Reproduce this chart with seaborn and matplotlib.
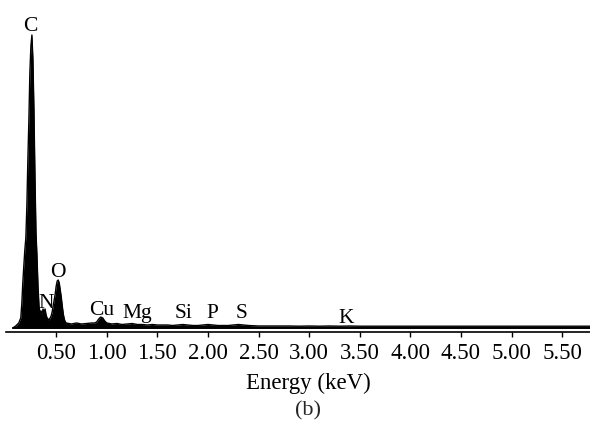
import matplotlib
matplotlib.use("Agg")
import matplotlib.pyplot as plt
import seaborn as sns
import pandas as pd

# EDS spectrum (counts in arbitrary units)
energy_kev = [0.07, 0.10, 0.13, 0.15, 0.16, 0.17, 0.18, 0.19, 0.20, 0.21,
              0.22, 0.23, 0.24, 0.25, 0.26, 0.27, 0.28, 0.29, 0.30, 0.31,
              0.32, 0.33, 0.34, 0.35, 0.36, 0.37, 0.38, 0.39, 0.40, 0.41,
              0.42, 0.43, 0.44, 0.45, 0.46, 0.47, 0.48, 0.49, 0.50, 0.51,
              0.52, 0.53, 0.54, 0.55, 0.56, 0.57, 0.58, 0.59, 0.60, 0.65,
              0.70, 0.75, 0.80, 0.85, 0.88, 0.90, 0.92, 0.94, 0.96, 0.98,
              1.00, 1.05, 1.10, 1.15, 1.20, 1.25, 1.30, 1.35, 1.40, 1.45,
              1.50, 1.55, 1.60, 1.65, 1.70, 1.75, 1.80, 1.85, 1.90, 1.95,
              2.00, 2.05, 2.10, 2.15, 2.20, 2.25, 2.30, 2.35, 2.40, 2.50,
              2.60, 2.70, 2.80, 2.90, 3.00, 3.10, 3.20, 3.30, 3.40, 3.50,
              3.60, 3.70, 3.80, 3.90, 4.00, 4.20, 4.40, 4.60, 4.80, 5.00,
              5.20, 5.40, 5.60, 5.78]
counts = [0, 2, 5, 10, 24, 45, 62, 78, 90, 122,
          168, 208, 256, 282, 293, 268, 218, 152, 96, 72,
          42, 22, 15, 17, 14, 19, 16, 19, 13, 10,
          9, 8, 10, 12, 16, 22, 28, 34, 42, 47,
          48, 45, 38, 31, 22, 14, 9, 6, 5, 4,
          5, 4, 4.5, 5, 5, 6, 9, 11, 10, 7,
          5, 4, 4.5, 3.5, 4, 4.5, 3.5, 3.5, 3, 3.5,
          3, 3, 3, 2.5, 3, 3.5, 3, 2.5, 2.5, 3,
          3.5, 3, 2.5, 2.5, 2.5, 3, 3.5, 3, 2.5, 2,
          2, 2, 2, 1.8, 2, 1.8, 2, 1.8, 2, 1.8,
          1.8, 1.8, 1.8, 1.8, 1.8, 1.8, 1.8, 1.8, 1.8, 1.8,
          1.8, 1.8, 1.8, 1.8]

# element labels: name, energy position, height of text baseline
elements = ["C", "N", "O", "Cu", "Mg", "Si", "P", "S", "K"]
element_x = [0.241, 0.404, 0.513, 0.953, 1.298, 1.763, 2.04, 2.336, 3.364]
element_y = [297, 20, 51, 13, 10, 10, 10, 10, 5]

tick_values = [0.5, 1.0, 1.5, 2.0, 2.5, 3.0, 3.5, 4.0, 4.5, 5.0, 5.5]

sns.set_theme(style="white")
plt.rcParams['font.family'] = ['Liberation Serif', 'DejaVu Serif']

df = pd.DataFrame({'energy': energy_kev, 'counts': counts})

fig = plt.figure(figsize=(5.9, 4.33), dpi=100)
ax = fig.add_axes([5.6 / 590, (433 - 331.5) / 433, 584.4 / 590, 321.5 / 433])

ax.fill_between(df['energy'], 0, df['counts'], color='black', lw=0)
sns.lineplot(data=df, x='energy', y='counts', ax=ax, color='black', lw=1.0)
ax.plot([0.07, 5.78], [0, 0], color='black', lw=1.4)

for name, x, y in zip(elements, element_x, element_y):
    ax.text(x, y, name, ha='center', va='baseline', fontsize=15.5, color='black')

ax.set_xlim(0, 5.775)
ax.set_ylim(-3.5, 318)
ax.set_xticks(tick_values)
ax.set_xticklabels([f"{t:.2f}" for t in tick_values])
ax.set_yticks([])
ax.tick_params(axis='x', direction='out', length=3.5, width=1.0, pad=5,
               labelsize=16.5, colors='black', bottom=True)
for side in ['top', 'left', 'right']:
    ax.spines[side].set_visible(False)
ax.spines['bottom'].set_color('black')
ax.spines['bottom'].set_linewidth(1.2)

ax.set_ylabel('')
ax.set_xlabel('Energy (keV)', fontsize=16.5, color='black', va='center')
ax.xaxis.set_label_coords((308 - 5.6) / 584.4, (331.5 - 383) / 321.5)

fig.text(308 / 590, 1 - 411 / 433, '(b)', ha='center', va='center', fontsize=16)

fig.savefig('out.png', dpi=100)
